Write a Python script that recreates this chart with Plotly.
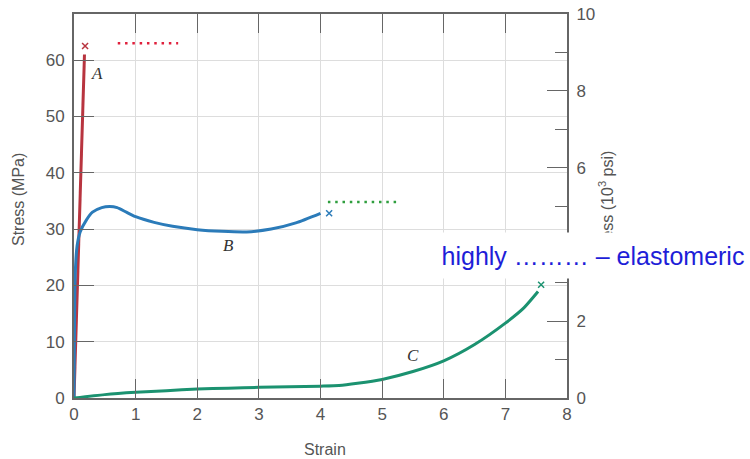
import plotly.graph_objects as go

# ---- data ----
strain_a = [0, 0.17]
stress_a = [0, 61.0]
break_a = ([0.18], [62.5])

strain_b = [0, 0.02, 0.05, 0.1, 0.2, 0.3, 0.45, 0.58, 0.7, 0.85, 1.0, 1.3, 1.6, 2.0, 2.4, 2.8, 3.2, 3.6, 4.0]
stress_b = [0, 22, 27, 29.5, 31.6, 33.0, 33.8, 34.0, 33.8, 33.0, 32.2, 31.2, 30.5, 29.9, 29.6, 29.5, 30.0, 31.1, 32.8]
break_b = ([4.14], [32.8])

strain_c = [0, 0.5, 1, 1.5, 2, 2.5, 3, 3.5, 4, 4.3, 4.6, 5, 5.5, 6, 6.5, 7, 7.3, 7.53]
stress_c = [0, 0.6, 1.0, 1.3, 1.6, 1.75, 1.9, 2.0, 2.1, 2.2, 2.6, 3.3, 4.7, 6.6, 9.5, 13.3, 16.0, 18.9]
break_c = ([7.58], [20.1])

dots_red = ([0.71, 1.69], [63.0, 63.0])
dots_green = ([4.12, 5.26], [34.8, 34.8])

labels = [("A", 0.37, 57.6), ("B", 2.5, 27.0), ("C", 5.5, 7.5)]

x_ticks = [0, 1, 2, 3, 4, 5, 6, 7, 8]
y_ticks = [0, 10, 20, 30, 40, 50, 60]
y2_ticks = [0, 2, 4, 6, 8, 10]

RED = "#b8343f"
BLUE = "#2b7bb9"
GREEN = "#1b9270"
AX = "#666666"
TXT = "#555555"
FONT = "Liberation Sans, Arial, sans-serif"

L, R, T, B = 74, 567, 14, 398
PW, PH = R - L, B - T


def px(xp):
    return (xp - L) / PW


def py(yp):
    return (B - yp) / PH


fig = go.Figure()

for sx, sy, col in [(strain_a, stress_a, RED), (strain_b, stress_b, BLUE), (strain_c, stress_c, GREEN)]:
    fig.add_trace(go.Scatter(x=sx, y=sy, mode="lines", line=dict(color=col, width=3, shape="spline", smoothing=0.6),
                             showlegend=False, hoverinfo="skip"))

for (bx, by), col in [(break_a, RED), (break_b, BLUE), (break_c, GREEN)]:
    fig.add_trace(go.Scatter(x=bx, y=by, mode="markers",
                             marker=dict(symbol="x-thin", size=6, line=dict(color=col, width=1.5)),
                             showlegend=False, hoverinfo="skip"))

for (dx, dy), col in [(dots_red, "#e0203c"), (dots_green, "#2f9e3e")]:
    fig.add_trace(go.Scatter(x=dx, y=dy, mode="lines", line=dict(color=col, width=2.5, dash="2.5px,4.8px"),
                             showlegend=False, hoverinfo="skip"))

# invisible traces for secondary axes
fig.add_trace(go.Scatter(x=[0], y=[0], yaxis="y2", mode="markers", marker=dict(opacity=0),
                         showlegend=False, hoverinfo="skip"))
fig.add_trace(go.Scatter(x=[0], y=[0], xaxis="x2", mode="markers", marker=dict(opacity=0),
                         showlegend=False, hoverinfo="skip"))

for t, lx, ly in labels:
    fig.add_annotation(x=lx, y=ly, text=f"<i>{t}</i>", showarrow=False,
                       font=dict(family="Liberation Serif, DejaVu Serif, serif", size=17, color="#333333"))

fig.update_layout(
    width=750, height=459,
    margin=dict(l=L, r=750 - R, t=T, b=459 - B, autoexpand=False),
    paper_bgcolor="white", plot_bgcolor="white",
    font=dict(family=FONT, color=TXT),
    xaxis=dict(range=[0, 8], tickvals=x_ticks, ticks="inside", ticklen=19, tickwidth=1, tickcolor=AX,
               showline=True, linecolor=AX, linewidth=2, mirror=True, automargin=False,
               showgrid=True, gridcolor="#dddddd", gridwidth=1, zeroline=False,
               tickfont=dict(size=17, color=TXT)),
    xaxis2=dict(range=[0, 8], overlaying="x", side="top", tickvals=x_ticks, ticks="inside", ticklen=19,
                tickwidth=1, tickcolor=AX, showticklabels=False, showline=False, showgrid=False,
                zeroline=False, automargin=False),
    yaxis=dict(range=[0, 68.2], tickvals=y_ticks, ticks="inside", ticklen=20, tickwidth=1, tickcolor=AX,
               showline=True, linecolor=AX, linewidth=2, automargin=False,
               showgrid=True, gridcolor="#dddddd", gridwidth=1, zeroline=False,
               tickfont=dict(size=17, color=TXT), ticklabelstandoff=4),
    yaxis2=dict(range=[0, 10], overlaying="y", side="right", tickvals=y2_ticks, ticks="inside",
                ticklen=20, tickwidth=1, tickcolor=AX, automargin=False,
                minor=dict(ticks="inside", ticklen=12, tickwidth=1, tickcolor=AX, dtick=1, tick0=0, showgrid=False),
                showline=True, linecolor=AX, linewidth=2, showgrid=False, zeroline=False,
                tickfont=dict(size=17, color=TXT), ticklabelstandoff=4),
)

# x axis title
fig.add_annotation(xref="paper", yref="paper", x=px(325), y=py(449), xanchor="center", yanchor="middle",
                   text="Strain", showarrow=False, font=dict(size=16, color=TXT, family=FONT))
# left axis title
fig.add_annotation(xref="paper", yref="paper", x=px(18), y=py(200), xanchor="center", yanchor="middle",
                   text="Stress (MPa)", textangle=-90, showarrow=False,
                   font=dict(size=16, color=TXT, family=FONT))
# right axis title
fig.add_annotation(xref="paper", yref="paper", x=px(606), y=py(206), xanchor="center", yanchor="middle",
                   text="Stress (10<sup>3</sup> psi)", textangle=-90, showarrow=False,
                   font=dict(size=16, color=TXT, family=FONT))
# overlay text box
fig.add_annotation(xref="paper", yref="paper", x=px(593), y=py(255.5), xanchor="center", yanchor="middle",
                   text="highly ……… – elastomeric", showarrow=False,
                   width=314, height=45, bgcolor="white", borderpad=0,
                   font=dict(size=25, color="#1e1ed8", family=FONT))

fig.write_html("out.html")
